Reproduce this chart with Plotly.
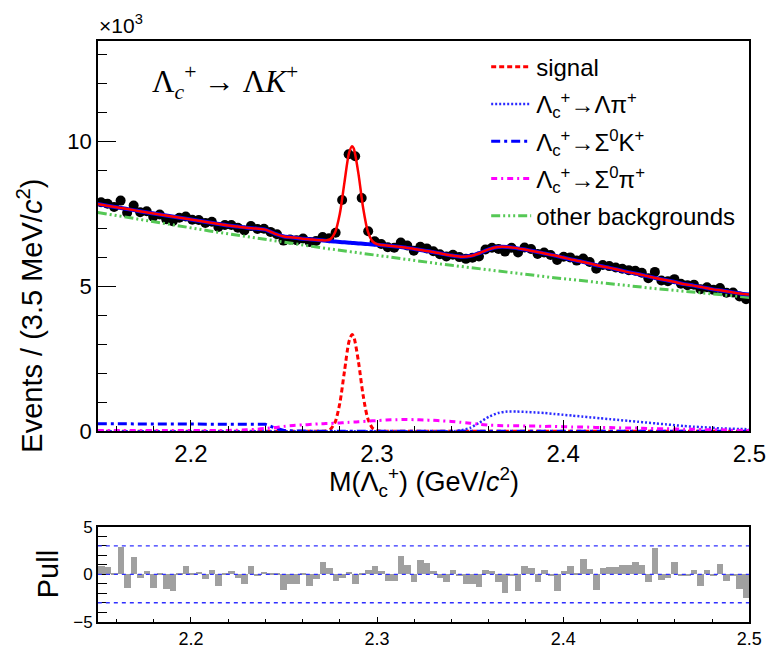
import numpy as np
import plotly.graph_objects as go

# ---- binning of the mass histogram (3.5 MeV bins) ----
x_lo, x_hi, bin_w = 2.15, 2.50, 0.0035
edges = np.round(np.arange(x_lo, x_hi + bin_w / 2, bin_w), 5)
centers = (edges[:-1] + edges[1:]) / 2

# ---- data: events per bin, in units of 10^3 ----
data_k = [
    7.90, 7.85, 7.74, 7.96, 7.54, 7.79, 7.56, 7.59, 7.40, 7.48,
    7.32, 7.25, 7.37, 7.41, 7.30, 7.29, 7.19, 7.23, 7.05, 7.12,
    7.12, 7.02, 6.93, 7.08, 6.98, 6.99, 6.88, 6.80, 6.58, 6.62,
    6.59, 6.65, 6.53, 6.57, 6.70, 6.66, 6.85, 7.98, 9.56, 9.49,
    8.05, 6.90, 6.56, 6.46, 6.35, 6.33, 6.51, 6.41, 6.23, 6.37,
    6.31, 6.21, 6.11, 6.03, 6.09, 6.01, 5.95, 5.99, 6.03, 6.27,
    6.33, 6.29, 6.20, 6.33, 6.17, 6.34, 6.29, 6.12, 6.17, 6.08,
    5.91, 6.02, 6.00, 5.89, 5.96, 5.84, 5.61, 5.74, 5.70, 5.65,
    5.61, 5.56, 5.54, 5.47, 5.28, 5.50, 5.20, 5.18, 5.25, 5.09,
    5.04, 5.06, 4.90, 4.97, 4.88, 4.94, 4.78, 4.79, 4.65, 4.56,
]

# ---- pulls per bin ----
pulls = [
    0.9, 0.8, 0.1, 2.9, -1.4, 1.8, -0.35, 0.4, -1.4, 0.1,
    -1.5, -1.8, 0.1, 0.85, 0.1, 0.3, -0.45, 0.5, -1.25, 0.1,
    0.4, -0.35, -1.0, 0.85, -0.2, 0.25, 0.1, 0.1, -1.7, -1.0,
    -1.0, 0.1, -1.2, -0.5, 1.35, 0.7, -0.7, -0.35, 0.25, -1.0,
    0.1, 0.45, 0.85, 0.35, -0.7, -0.7, 1.9, 1.0, -0.8, 1.5,
    1.2, 0.35, -0.35, -0.8, 0.5, -0.2, -1.0, -1.0, -1.35, 0.45,
    0.35, -0.85, -2.0, -0.2, -1.8, 0.9, 0.7, -0.85, 0.45, -0.2,
    -1.8, 0.35, 0.9, 0.1, 1.6, 0.6, -1.7, 0.7, 0.8, 0.8,
    1.0, 1.0, 1.35, 1.0, -0.85, 2.8, -0.6, -0.35, 1.35, -0.2,
    -0.2, 0.5, -1.2, 0.45, -0.2, 1.1, -0.7, -0.1, -1.55, -2.5,
]

# ---- fit components sampled at curve knots (units of 10^3 events) ----
knots = [
    2.150, 2.155, 2.160, 2.165, 2.170, 2.175, 2.180, 2.185, 2.190, 2.195,
    2.200, 2.205, 2.210, 2.215, 2.220, 2.225, 2.230, 2.235, 2.240, 2.245,
    2.250, 2.255, 2.260, 2.265,
    2.2700, 2.2725, 2.2750, 2.2775, 2.2800, 2.2825, 2.2850, 2.2866, 2.2875,
    2.2900, 2.2925, 2.2950, 2.2975, 2.3000, 2.3025,
    2.305, 2.310, 2.315, 2.320, 2.325, 2.330, 2.335, 2.340, 2.345, 2.350,
    2.355, 2.360, 2.365, 2.370, 2.375, 2.380, 2.385, 2.390, 2.395, 2.400,
    2.405, 2.410, 2.415, 2.420, 2.425, 2.430, 2.435, 2.440, 2.445, 2.450,
    2.455, 2.460, 2.465, 2.470, 2.475, 2.480, 2.485, 2.490, 2.495, 2.500,
]

other_bkg = [
    7.550, 7.495, 7.440, 7.386, 7.332, 7.278, 7.225, 7.172, 7.120, 7.068,
    7.016, 6.965, 6.914, 6.864, 6.813, 6.764, 6.714, 6.665, 6.617, 6.569,
    6.521, 6.473, 6.426, 6.380,
    6.333, 6.310, 6.287, 6.265, 6.242, 6.219, 6.197, 6.182, 6.174,
    6.152, 6.130, 6.108, 6.086, 6.064, 6.042,
    6.020, 5.977, 5.934, 5.892, 5.849, 5.808, 5.766, 5.726, 5.685, 5.645,
    5.605, 5.566, 5.527, 5.488, 5.450, 5.412, 5.375, 5.337, 5.301, 5.264,
    5.228, 5.193, 5.158, 5.123, 5.089, 5.055, 5.021, 4.988, 4.955, 4.922,
    4.890, 4.859, 4.827, 4.796, 4.766, 4.736, 4.706, 4.676, 4.647, 4.619,
]

sigma0_k = [0.26] * 18 + [0.24, 0.12, 0.03, 0.01] + [0.0] * 57

sigma0_pi = (
    [0.03] * 15
    + [0.04, 0.05, 0.07, 0.10, 0.13, 0.17, 0.20, 0.22, 0.24]
    + [0.26, 0.265, 0.27, 0.28, 0.29, 0.30, 0.31, 0.317, 0.32,
       0.33, 0.34, 0.35, 0.36, 0.37, 0.38]
    + [0.39, 0.40, 0.41, 0.40, 0.39, 0.38, 0.36, 0.34, 0.31, 0.28,
       0.24, 0.21, 0.20, 0.19, 0.19, 0.18, 0.18, 0.17, 0.17, 0.16,
       0.15, 0.15, 0.14, 0.13, 0.13, 0.12, 0.11, 0.11, 0.10, 0.09,
       0.09, 0.08, 0.07, 0.07, 0.06, 0.05, 0.05, 0.04, 0.03, 0.03]
)

lambda_pi = [0.0] * 47 + [
    0.03, 0.12, 0.30, 0.50, 0.63, 0.68, 0.68, 0.67, 0.65, 0.63,
    0.60, 0.57, 0.54, 0.51, 0.48, 0.45, 0.42, 0.39, 0.36, 0.33,
    0.30, 0.27, 0.24, 0.21, 0.18, 0.16, 0.14, 0.12, 0.10, 0.09,
    0.08, 0.07,
]

signal = [0.0] * 24 + [
    0.0, 0.012, 0.074, 0.32, 0.97, 2.07, 3.11, 3.34, 3.26,
    2.41, 1.25, 0.45, 0.115, 0.021, 0.003,
] + [0.0] * 40

# total background and total fit are the sums of the components
bkg_total = (np.array(other_bkg) + np.array(sigma0_k)
             + np.array(sigma0_pi) + np.array(lambda_pi))
fit_total = bkg_total + np.array(signal)

data_arr = np.array(data_k)
data_err = np.sqrt(data_arr * 1000.0) / 1000.0

FONT = "Liberation Sans"
W, H = 781, 654


def px(x):
    return x / W


def py(y):
    return 1 - y / H


fig = go.Figure()

# data points
fig.add_trace(go.Scatter(
    x=centers, y=data_arr, mode="markers",
    marker=dict(color="black", size=10, symbol="circle"),
    error_y=dict(type="data", array=data_err, color="black", thickness=1, width=0),
    showlegend=False, xaxis="x", yaxis="y",
))

# components
fig.add_trace(go.Scatter(
    x=knots, y=signal, mode="lines", name="signal",
    line=dict(color="#ff0000", width=3, dash="5px,3px", shape="spline", smoothing=0.8),
    legendgroup="a",
))
fig.add_trace(go.Scatter(
    x=knots, y=lambda_pi, mode="lines",
    name="Λ<sub>c</sub><sup>+</sup>→Λπ<sup>+</sup>",
    line=dict(color="#2a2aff", width=2.5, dash="2px,2px", shape="spline", smoothing=0.6),
    legendgroup="b",
))
fig.add_trace(go.Scatter(
    x=knots, y=sigma0_k, mode="lines",
    name="Λ<sub>c</sub><sup>+</sup>→Σ<sup>0</sup>K<sup>+</sup>",
    line=dict(color="#0000ff", width=3, dash="9px,4px,3px,4px"),
    legendgroup="c",
))
fig.add_trace(go.Scatter(
    x=knots, y=sigma0_pi, mode="lines",
    name="Λ<sub>c</sub><sup>+</sup>→Σ<sup>0</sup>π<sup>+</sup>",
    line=dict(color="#ff00ff", width=3, dash="6px,4px,2px,4px", shape="spline", smoothing=0.6),
    legendgroup="d",
))
fig.add_trace(go.Scatter(
    x=knots, y=other_bkg, mode="lines", name="other backgrounds",
    line=dict(color="#55c855", width=3, dash="9px,3px,2px,3px,2px,3px,2px,3px"),
    legendgroup="e",
))

# total background and total fit
fig.add_trace(go.Scatter(
    x=knots, y=bkg_total, mode="lines",
    line=dict(color="#0000ff", width=4, shape="spline", smoothing=0.6),
    showlegend=False,
))
fig.add_trace(go.Scatter(
    x=knots, y=fit_total, mode="lines",
    line=dict(color="#ff0000", width=2.5, shape="spline", smoothing=0.8),
    showlegend=False,
))

# pull histogram
fig.add_trace(go.Bar(
    x=centers, y=pulls, width=bin_w,
    marker=dict(color="#a0a0a0", line=dict(width=0)),
    showlegend=False, xaxis="x2", yaxis="y2",
))

x_dom = [px(100), px(766)]
main_dom = [py(437), py(33)]
pull_dom = [py(634), py(536)]

axis_common = dict(
    showline=True, linecolor="black", linewidth=1.5, mirror=True,
    showgrid=False, zeroline=False, ticks="inside", tickcolor="black",
)

fig.update_layout(
    width=W, height=H,
    margin=dict(l=0, r=0, t=0, b=0),
    paper_bgcolor="white", plot_bgcolor="white",
    font=dict(family=FONT, color="black"),
    bargap=0,
    xaxis=dict(
        **axis_common, domain=x_dom, range=[x_lo, x_hi], anchor="y",
        tickvals=[2.2, 2.3, 2.4, 2.5], ticktext=["2.2", "2.3", "2.4", "2.5"],
        ticklen=12, tickwidth=1.2,
        minor=dict(ticks="inside", ticklen=6, tick0=2.2, dtick=0.02, tickcolor="black"),
        tickfont=dict(size=24),
    ),
    yaxis=dict(
        **axis_common, domain=main_dom, range=[0, 13.47], anchor="x",
        tickvals=[0, 5, 10], ticktext=["0", "5", "10"],
        ticklen=18, tickwidth=1.2,
        minor=dict(ticks="inside", ticklen=9, tick0=0, dtick=1, tickcolor="black"),
        tickfont=dict(size=22),
    ),
    xaxis2=dict(
        **axis_common, domain=x_dom, range=[x_lo, x_hi], anchor="y2",
        tickvals=[2.2, 2.3, 2.4, 2.5], ticktext=["2.2", "2.3", "2.4", "2.5"],
        ticklen=5, tickwidth=1.2,
        minor=dict(ticks="inside", ticklen=3, tick0=2.2, dtick=0.02, tickcolor="black"),
        tickfont=dict(size=18),
    ),
    yaxis2=dict(
        **axis_common, domain=pull_dom, range=[-5, 5], anchor="x2",
        tickvals=[-5, 0, 5], ticktext=["−5", "0", "5"],
        ticklen=12, tickwidth=1.2,
        minor=dict(ticks="inside", ticklen=9, tick0=0, dtick=1, tickcolor="black"),
        tickfont=dict(size=17),
    ),
    legend=dict(
        x=px(497), y=py(37), xanchor="left", yanchor="top",
        font=dict(size=24, family=FONT), bgcolor="rgba(0,0,0,0)",
        tracegroupgap=3, itemwidth=40,
    ),
)

# reference lines in the pull panel
for level in (-3, 0, 3):
    fig.add_shape(type="line", xref="x2", yref="y2", x0=x_lo, x1=x_hi,
                  y0=level, y1=level, layer="above",
                  line=dict(color="#3030ff", width=1.3, dash="4px,4px"))

annotations = [
    dict(text="×10<sup>3</sup>", x=px(99), y=py(16), xanchor="left", yanchor="middle",
         font=dict(size=21)),
    dict(text="Λ<sub><i>c</i></sub><sup>+</sup> → Λ<i>K</i><sup>+</sup>",
         x=px(153), y=py(76), xanchor="left", yanchor="middle",
         font=dict(size=31, family="Liberation Serif")),
    dict(text="Events / (3.5 MeV/<i>c</i><sup>2</sup>)", x=px(31), y=py(317),
         xanchor="center", yanchor="middle", textangle=-90, font=dict(size=29)),
    dict(text="M(Λ<sub>c</sub><sup>+</sup>) (GeV/<i>c</i><sup>2</sup>)", x=px(433), y=py(489),
         xanchor="center", yanchor="middle", font=dict(size=27)),
    dict(text="Pull", x=px(49), y=py(585), xanchor="center", yanchor="middle",
         textangle=-90, font=dict(size=29)),
]
for a in annotations:
    fig.add_annotation(xref="paper", yref="paper", showarrow=False, **a)

fig.write_html("out.html")
